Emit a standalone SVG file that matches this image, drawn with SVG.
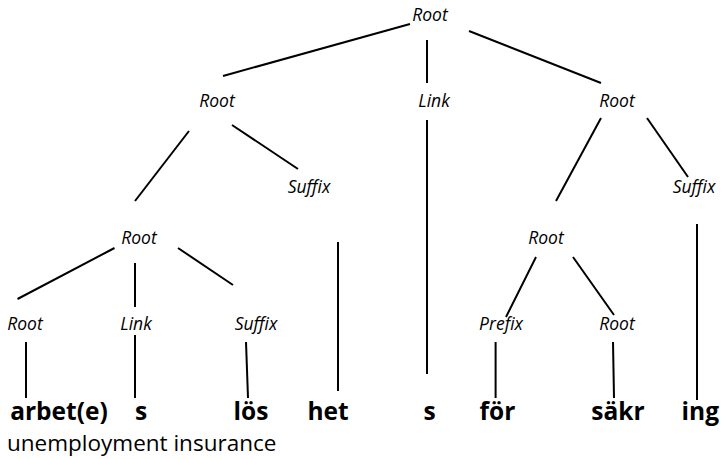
<svg xmlns="http://www.w3.org/2000/svg" width="721" height="459" viewBox="0 0 721 459">
<style>
.lbl{font-family:"Open Sans","DejaVu Sans",sans-serif;font-style:italic;font-size:17.5px;fill:#000;text-anchor:middle}
.w{font-family:"Open Sans","DejaVu Sans",sans-serif;font-weight:bold;font-size:24.5px;fill:#000;text-anchor:middle}
.gl{font-family:"Open Sans","DejaVu Sans",sans-serif;font-size:22.5px;fill:#000}
.c line{stroke:#000;stroke-width:2;stroke-linecap:butt}
</style>
<rect width="721" height="459" fill="#fff"/>
<g id="connectors" class="c">
<line x1="410" y1="24" x2="223" y2="76"/>
<line x1="427" y1="40" x2="427" y2="83"/>
<line x1="469" y1="31" x2="601" y2="83"/>
<line x1="189" y1="131" x2="135" y2="201"/>
<line x1="232" y1="125" x2="298" y2="169"/>
<line x1="427" y1="120" x2="427" y2="374"/>
<line x1="601" y1="118" x2="556" y2="201"/>
<line x1="647" y1="118" x2="688" y2="177"/>
<line x1="697" y1="224" x2="697" y2="400"/>
<line x1="114.5" y1="248" x2="17.5" y2="299"/>
<line x1="135" y1="263" x2="135" y2="307"/>
<line x1="178" y1="248" x2="233" y2="285"/>
<line x1="338" y1="242" x2="338" y2="391"/>
<line x1="536" y1="257" x2="506" y2="317"/>
<line x1="573" y1="257" x2="614" y2="315"/>
<line x1="26" y1="342" x2="26" y2="398"/>
<line x1="135" y1="335" x2="135" y2="398"/>
<line x1="246" y1="342" x2="248" y2="398"/>
<line x1="495.6" y1="342" x2="495.6" y2="398"/>
<line x1="613" y1="342" x2="614" y2="398"/>
</g>
<g id="n-root-top"><text class="lbl" x="430" y="21">Root</text></g>
<g id="n-root-l"><text class="lbl" x="217" y="107">Root</text></g>
<g id="n-link-mid"><text class="lbl" x="434" y="107">Link</text></g>
<g id="n-root-r"><text class="lbl" x="617" y="107">Root</text></g>
<g id="n-suffix-l"><text class="lbl" x="309" y="193">Suffix</text></g>
<g id="n-suffix-r"><text class="lbl" x="694" y="193">Suffix</text></g>
<g id="n-root-ll"><text class="lbl" x="139" y="244">Root</text></g>
<g id="n-root-rl"><text class="lbl" x="546" y="244">Root</text></g>
<g id="n-root-3a"><text class="lbl" x="25" y="330">Root</text></g>
<g id="n-link-3"><text class="lbl" x="136" y="330">Link</text></g>
<g id="n-suffix-3"><text class="lbl" x="256" y="330">Suffix</text></g>
<g id="n-prefix-3"><text class="lbl" x="501" y="330">Prefix</text></g>
<g id="n-root-3b"><text class="lbl" x="617" y="330">Root</text></g>
<g id="w-arbete"><text class="w" x="59" y="420">arbet(e)</text></g>
<g id="w-s1"><text class="w" x="141" y="420">s</text></g>
<g id="w-los"><text class="w" x="251" y="420">lös</text></g>
<g id="w-het"><text class="w" x="328" y="420">het</text></g>
<g id="w-s2"><text class="w" x="429.5" y="420">s</text></g>
<g id="w-for"><text class="w" x="497.5" y="420">för</text></g>
<g id="w-sakr"><text class="w" x="618" y="420">säkr</text></g>
<g id="w-ing"><text class="w" x="719" y="420" style="text-anchor:end">ing</text></g>
<g id="gloss"><text class="gl" x="7" y="451">unemployment insurance</text></g>
</svg>
